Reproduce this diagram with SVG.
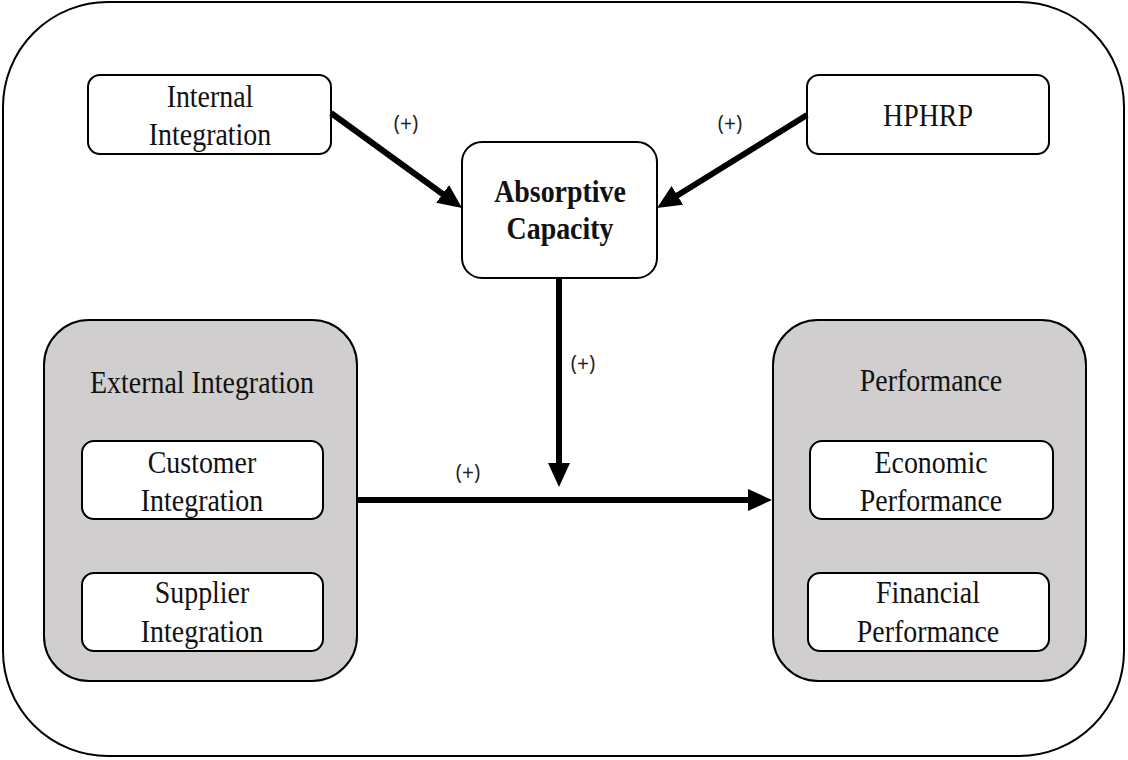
<svg xmlns="http://www.w3.org/2000/svg" width="1128" height="760" viewBox="0 0 1128 760">
<style>
.frame{fill:#fff;stroke:#000;stroke-width:2}
.box{fill:#fff;stroke:#000;stroke-width:2}
.grp{fill:#d0cece;stroke:#000;stroke-width:2}
.t{font-family:"Liberation Serif","Times New Roman",serif;font-size:31px;fill:#111;text-anchor:middle}
.b{font-weight:bold}
.lbl{font-family:"Open Sans","Liberation Sans",sans-serif;font-size:21px;fill:#222;text-anchor:middle}
.con{stroke:#000;stroke-width:6;fill:none}
</style>
<defs>
<marker id="ah" markerUnits="userSpaceOnUse" markerWidth="24" markerHeight="22" refX="12" refY="11" orient="auto">
<path d="M0,0 L24,11 L0,22 z" fill="#000"/>
</marker>
</defs>
<rect class="frame" x="3" y="2" width="1121" height="754" rx="105" ry="105"/>

<g id="internal-integration">
<rect class="box" x="88" y="75" width="243" height="79" rx="12"/>
<text class="t" transform="translate(210,107) scale(0.9,1)">Internal</text>
<text class="t" transform="translate(210,145) scale(0.9,1)">Integration</text>
</g>

<g id="hphrp">
<rect class="box" x="807" y="75" width="242" height="79" rx="12"/>
<text class="t" transform="translate(928,126) scale(0.9,1)">HPHRP</text>
</g>

<g id="absorptive-capacity">
<rect class="box" x="462" y="142" width="195" height="136" rx="20"/>
<text class="t b" transform="translate(560,202) scale(0.9,1)">Absorptive</text>
<text class="t b" transform="translate(560,239) scale(0.9,1)">Capacity</text>
</g>

<g id="external-integration">
<rect class="grp" x="44" y="320" width="313" height="361" rx="45"/>
<text class="t" transform="translate(202,393) scale(0.9,1)">External Integration</text>
<g id="customer-integration">
<rect class="box" x="82" y="441" width="241" height="78" rx="12"/>
<text class="t" transform="translate(202,473) scale(0.9,1)">Customer</text>
<text class="t" transform="translate(202,511) scale(0.9,1)">Integration</text>
</g>
<g id="supplier-integration">
<rect class="box" x="82" y="573" width="241" height="78" rx="12"/>
<text class="t" transform="translate(202,603) scale(0.9,1)">Supplier</text>
<text class="t" transform="translate(202,642) scale(0.9,1)">Integration</text>
</g>
</g>

<g id="performance">
<rect class="grp" x="773" y="320" width="313" height="361" rx="45"/>
<text class="t" transform="translate(931,391) scale(0.9,1)">Performance</text>
<g id="economic-performance">
<rect class="box" x="810" y="441" width="243" height="78" rx="12"/>
<text class="t" transform="translate(931,473) scale(0.9,1)">Economic</text>
<text class="t" transform="translate(931,511) scale(0.9,1)">Performance</text>
</g>
<g id="financial-performance">
<rect class="box" x="808" y="573" width="241" height="78" rx="12"/>
<text class="t" transform="translate(928,603) scale(0.9,1)">Financial</text>
<text class="t" transform="translate(928,642) scale(0.9,1)">Performance</text>
</g>
</g>

<g id="connectors">
<line class="con" x1="331" y1="113" x2="452.3" y2="201" marker-end="url(#ah)"/>
<line class="con" x1="807" y1="115" x2="667.2" y2="201.7" marker-end="url(#ah)"/>
<line class="con" x1="559" y1="278" x2="559" y2="475" marker-end="url(#ah)"/>
<line class="con" x1="357" y1="500" x2="760" y2="500" marker-end="url(#ah)"/>
<text class="lbl" x="406" y="131">(+)</text>
<text class="lbl" x="730" y="131">(+)</text>
<text class="lbl" x="583" y="371">(+)</text>
<text class="lbl" x="468" y="480">(+)</text>
</g>
</svg>
